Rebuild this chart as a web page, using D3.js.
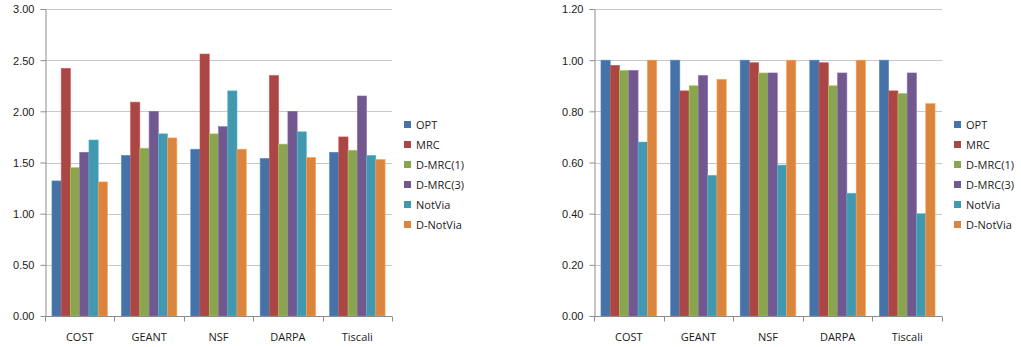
<!DOCTYPE html>
<html>
<head>
<meta charset="utf-8">
<script src="https://cdn.jsdelivr.net/npm/d3@7"></script>
<style>
  body { margin: 0; background: #fff; }
  svg { display: block; font-family: "Open Sans", "Liberation Sans", Arial, sans-serif; }
  .grid line { stroke: #c8c8c8; }
  .axis path, .axis line { stroke: #8c8c8c; }
  .axis text { fill: #1a1a1a; font-size: 11px; }
  .legend text { fill: #1a1a1a; font-size: 11px; }
</style>
</head>
<body>
<svg id="chart" width="1021" height="347"></svg>
<script>
// categories and series
const topologies = ['COST', 'GEANT', 'NSF', 'DARPA', 'Tiscali'];
const schemes = ['OPT', 'MRC', 'D-MRC(1)', 'D-MRC(3)', 'NotVia', 'D-NotVia'];
const schemeColors = ['#4572a7', '#aa4643', '#89a54e', '#71588f', '#4198af', '#db843d'];

// left chart, values per scheme (in topology order)
const leftOPT = [1.32, 1.57, 1.63, 1.54, 1.60];
const leftMRC = [2.42, 2.09, 2.56, 2.35, 1.75];
const leftDMRC1 = [1.45, 1.64, 1.78, 1.68, 1.62];
const leftDMRC3 = [1.60, 2.00, 1.85, 2.00, 2.15];
const leftNotVia = [1.72, 1.78, 2.20, 1.80, 1.57];
const leftDNotVia = [1.31, 1.74, 1.63, 1.55, 1.53];
const leftTicks = [0, 0.5, 1.0, 1.5, 2.0, 2.5, 3.0];

// right chart
const rightOPT = [1.00, 1.00, 1.00, 1.00, 1.00];
const rightMRC = [0.98, 0.88, 0.99, 0.99, 0.88];
const rightDMRC1 = [0.96, 0.90, 0.95, 0.90, 0.87];
const rightDMRC3 = [0.96, 0.94, 0.95, 0.95, 0.95];
const rightNotVia = [0.68, 0.55, 0.59, 0.48, 0.40];
const rightDNotVia = [1.00, 0.925, 1.00, 1.00, 0.83];
const rightTicks = [0, 0.2, 0.4, 0.6, 0.8, 1.0, 1.2];

const svg = d3.select('#chart');

function drawChart(opts) {
    const { left, right, top, bottom, series, ticks, legendX } = opts;
    const g = svg.append('g');

    const x = d3.scaleBand().domain(topologies).range([left, right]).paddingInner(0).paddingOuter(0);
    const x1 = d3.scaleBand().domain(schemes).range([0, x.bandwidth()]).paddingInner(0).paddingOuter(0.75);
    const y = d3.scaleLinear().domain([ticks[0], ticks[ticks.length - 1]]).range([bottom, top]);

    // gridlines
    g.append('g')
        .attr('class', 'grid')
        .selectAll('line')
        .data(ticks.slice(1))
        .join('line')
        .attr('x1', left)
        .attr('x2', right)
        .attr('y1', (d) => Math.round(y(d)) + 0.5)
        .attr('y2', (d) => Math.round(y(d)) + 0.5);

    // bars
    const rows = topologies.map((t, i) => ({ topo: t, values: series.map((s) => s[i]) }));
    const groups = g.append('g')
        .selectAll('g')
        .data(rows)
        .join('g')
        .attr('transform', (d) => `translate(${x(d.topo)},0)`);

    groups.selectAll('rect')
        .data((d) => d.values.map((v, k) => ({ scheme: schemes[k], value: v, color: schemeColors[k] })))
        .join('rect')
        .attr('x', (d) => x1(d.scheme))
        .attr('y', (d) => y(d.value))
        .attr('width', x1.bandwidth())
        .attr('height', (d) => y(0) - y(d.value))
        .attr('fill', (d) => d.color)
        .attr('stroke', (d) => d3.color(d.color).brighter(0.6))
        .attr('stroke-width', 0.6);

    // y axis
    const yAxis = d3.axisLeft(y)
        .tickValues(ticks)
        .tickFormat(d3.format('.2f'))
        .tickSize(5)
        .tickSizeOuter(0)
        .tickPadding(6);
    g.append('g')
        .attr('class', 'axis')
        .attr('transform', `translate(${left + 0.5},0)`)
        .call(yAxis)
        .call((sel) => sel.selectAll('.tick text').attr('dy', '0.35em'));

    // x axis: line with ticks at category boundaries
    const xAxis = g.append('g')
        .attr('class', 'axis')
        .attr('transform', `translate(0,${Math.round(bottom) + 0.5})`);
    xAxis.append('path').attr('d', `M${left},0H${right}`);
    const bounds = topologies.map((t) => x(t)).concat([right]);
    xAxis.selectAll('line')
        .data(bounds)
        .join('line')
        .attr('x1', (d) => Math.round(d) + 0.5)
        .attr('x2', (d) => Math.round(d) + 0.5)
        .attr('y1', 0)
        .attr('y2', 5);
    xAxis.selectAll('text')
        .data(topologies)
        .join('text')
        .attr('x', (d) => x(d) + x.bandwidth() / 2)
        .attr('y', 21)
        .attr('dy', '0.35em')
        .attr('text-anchor', 'middle')
        .text((d) => d);

    // legend
    const legend = g.append('g')
        .attr('class', 'legend')
        .attr('transform', `translate(${legendX},121)`);
    const item = legend.selectAll('g')
        .data(schemes)
        .join('g')
        .attr('transform', (d, i) => `translate(0,${i * 20})`);
    item.append('rect')
        .attr('width', 7)
        .attr('height', 7)
        .attr('fill', (d, i) => schemeColors[i]);
    item.append('text')
        .attr('x', 12)
        .attr('y', 4)
        .attr('dy', '0.35em')
        .text((d) => d);
}

drawChart({
    left: 45, right: 392, top: 9, bottom: 316,
    series: [leftOPT, leftMRC, leftDMRC1, leftDMRC3, leftNotVia, leftDNotVia],
    ticks: leftTicks,
    legendX: 404,
});

drawChart({
    left: 594, right: 942, top: 9, bottom: 316,
    series: [rightOPT, rightMRC, rightDMRC1, rightDMRC3, rightNotVia, rightDNotVia],
    ticks: rightTicks,
    legendX: 954,
});
</script>
</body>
</html>
